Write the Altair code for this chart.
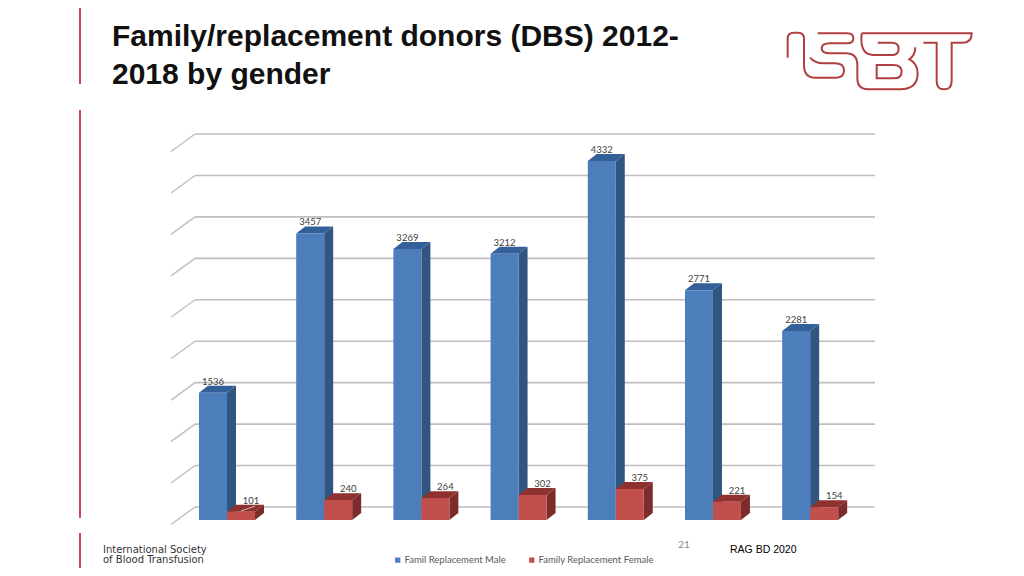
import altair as alt
import pandas as pd

years = [2012, 2013, 2014, 2015, 2016, 2017, 2018]
male = [1536, 3457, 3269, 3212, 4332, 2771, 2281]
female = [101, 240, 264, 302, 375, 221, 154]
y_ticks = [0, 500, 1000, 1500, 2000, 2500, 3000, 3500, 4000, 4500]
male_name = "Famil Replacement  Male"
female_name = "Family Replacement Female"

BAR_W = 0.288      # bar width in years
DEPTH_X = 0.0926   # 3D depth in years
DEPTH_V = 84       # 3D depth in value units

x_scale = alt.Scale(domain=[2011.712, 2018.955], nice=False, zero=False)
y_scale = alt.Scale(domain=[0, 4500], nice=False, zero=False)
CHART_FONT = "Lato"
GREY = "#595959"
ORIGIN_X, ORIGIN_Y = 171, 147


def px(x):
    return alt.value(x - ORIGIN_X)


def py(y):
    return alt.value(y - ORIGIN_Y)


def X(field="x", axis=None):
    return alt.X(f"{field}:Q", scale=x_scale, axis=axis, title=None)


def Y(field="y", axis=None):
    return alt.Y(f"{field}:Q", scale=y_scale, axis=axis, title=None)


def note(text, x, y, size, font="Liberation Sans", color="#000000", weight="normal", align="left"):
    return alt.Chart(pd.DataFrame({"t": [text]})).mark_text(
        align=align, baseline="alphabetic", fontSize=size, font=font, color=color, fontWeight=weight
    ).encode(x=px(x), y=py(y), text="t:N")


def side_rows(vals, offset):
    rows = []
    for yr, v in zip(years, vals):
        xr = yr + offset + BAR_W
        rows.append({"g": yr, "x": xr, "y": v, "y2": 0})
        rows.append({"g": yr, "x": xr + DEPTH_X, "y": v + DEPTH_V, "y2": DEPTH_V})
    return pd.DataFrame(rows)


def top_rows(vals, offset):
    rows = []
    for yr, v in zip(years, vals):
        xl = yr + offset
        xr = xl + BAR_W
        rows.append({"g": yr, "x": xl, "y": v, "y2": v})
        rows.append({"g": yr, "x": xl + DEPTH_X, "y": v + DEPTH_V, "y2": v})
        rows.append({"g": yr, "x": xr, "y": v + DEPTH_V, "y2": v})
        rows.append({"g": yr, "x": xr + DEPTH_X, "y": v + DEPTH_V, "y2": v + DEPTH_V})
    return pd.DataFrame(rows)


def face(df, color):
    return alt.Chart(df).mark_area(orient="vertical", color=color, opacity=1, interpolate="linear").encode(
        x=X(), y=Y(), y2=alt.Y2("y2:Q"), detail="g:N"
    )


grid_df = pd.DataFrame({"v": y_ticks})
x_axis = alt.Axis(values=years, format="d", ticks=False, domain=False, grid=False, labelOffset=21,
                  labelPadding=12, labelFont=CHART_FONT, labelFontSize=9.5, labelColor=GREY)
y_axis = alt.Axis(values=y_ticks, format="d", ticks=False, domain=False, grid=False, labelOffset=4,
                  labelPadding=8, labelFont=CHART_FONT, labelFontSize=9.5, labelColor=GREY)

grid = alt.Chart(grid_df).mark_rule(color="#BFBFBF", strokeWidth=1.6, yOffset=-13, y2Offset=-13).encode(
    x=px(195), x2=px(875), y=Y("v", y_axis), y2=alt.Y2("v:Q")
)
slant = alt.Chart(grid_df).mark_rule(color="#BFBFBF", strokeWidth=1.4, yOffset=4.5, y2Offset=-13).encode(
    x=px(171), x2=px(195), y=Y("v"), y2=alt.Y2("v:Q")
)

front_df = pd.DataFrame(
    [{"s": male_name, "x": y, "x2": y + BAR_W, "y": v} for y, v in zip(years, male)]
    + [{"s": female_name, "x": y + BAR_W, "x2": y + 2 * BAR_W, "y": v} for y, v in zip(years, female)]
)
front = alt.Chart(front_df).mark_rect().encode(
    x=X("x", x_axis), x2="x2:Q", y=Y(), y2=alt.Y2(datum=0),
    color=alt.Color("s:N", scale=alt.Scale(domain=[male_name, female_name], range=["#4C7EBB", "#C1504D"]),
                    legend=alt.Legend(title=None, orient="none", legendX=393 - ORIGIN_X, legendY=555 - ORIGIN_Y,
                                      direction="horizontal", symbolType="square", symbolSize=28,
                                      labelFont=CHART_FONT, labelFontSize=9.5, labelColor=GREY,
                                      symbolStrokeWidth=0, columnPadding=18, labelOffset=2, padding=0)),
)

label_df = pd.DataFrame(
    [{"x": y + BAR_W / 2, "y": v, "t": str(v)} for y, v in zip(years, male)]
    + [{"x": y + BAR_W + 24 / 97.2, "y": v, "t": str(v)} for y, v in zip(years, female)]
)
labels = alt.Chart(label_df).mark_text(font=CHART_FONT, fontSize=9.5, color="#404040", baseline="middle", dy=-11).encode(
    x=X(), y=Y(), text="t:N"
)
leader = alt.Chart(pd.DataFrame({"a": [0]})).mark_rule(color="#BFBFBF", strokeWidth=1).encode(
    x=px(241), x2=px(255), y=py(511), y2=py(506)
)

# Brand strokes, in a 3x sketch grid whose origin is placed by the mark's position
LOGO = (
    "M53 143 L53 86 Q53 68 72 68 L84 68 Q102 68 102 86 L102 165 Q102 203 135 203 L195 203 "
    "Q222 203 222 182 Q222 160 195 160 L160 160 Q135 160 120 143 "
    "M143 70 L232 70 Q250 70 250 85 Q250 100 232 100 L180 100 Q155 100 155 115 Q155 130 180 130 L228 130 "
    "Q262 130 262 165 L262 205 Q262 238 295 238 L390 238 Q443 238 443 190 Q443 160 418 148 Q436 135 436 112 "
    "M275 70 L605 70 Q605 98 580 98 L545 98 L545 212 Q545 238 522 238 Q500 238 500 212 L500 98 L460 98 "
    "M275 70 Q268 135 310 135 L365 135 Q386 135 386 116 Q386 98 365 98 L323 98 "
    "M320 165 L320 205 L370 205 Q395 205 395 185 Q395 165 370 165 Z"
)
logo = alt.Chart(pd.DataFrame({"a": [0]})).mark_point(
    shape=LOGO, size=4 / 9, filled=False, stroke="#B0403F", strokeWidth=2, opacity=1
).encode(x=px(770), y=py(10))

accents = alt.Chart(pd.DataFrame({"top": [0, 110, 533], "bottom": [84, 518, 576]})).transform_calculate(
    a=f"datum.top - {ORIGIN_Y}", b=f"datum.bottom - {ORIGIN_Y}"
).mark_rule(color="#C9474F", strokeWidth=2).encode(
    x=px(80),
    y=alt.Y("a:Q", scale=None, axis=None),
    y2=alt.Y2("b:Q"),
)

chart = alt.layer(
    grid, slant,
    face(side_rows(male, 0), "#2F5580"),
    face(top_rows(male, 0), "#34609A"),
    face(side_rows(female, BAR_W), "#7C2D2B"),
    face(top_rows(female, BAR_W), "#8F312F"),
    front, leader, labels,
    accents,
    note("Family/replacement donors (DBS) 2012-", 112, 46, 30, weight="bold", color="#111111"),
    note("2018 by gender", 112, 84, 30, weight="bold", color="#111111"),
    note("International Society", 103, 553, 10, font="DejaVu Sans", color="#333333"),
    note("of Blood Transfusion", 103, 563, 10, font="DejaVu Sans", color="#333333"),
    note("21", 684, 548, 10, font=CHART_FONT, color="#8A8A8A", align="center"),
    note("RAG BD 2020", 730, 553, 10.5),
    logo,
).resolve_scale(y="shared", x="shared").properties(
    width=704, height=373,
    padding={"left": ORIGIN_X - 8, "top": ORIGIN_Y - 8, "right": 141, "bottom": 48},
    autosize=alt.AutoSizeParams(type="none"),
    background="white",
).configure_view(stroke=None)

chart.save("out.html", embed_options={"renderer": "svg", "actions": False})
